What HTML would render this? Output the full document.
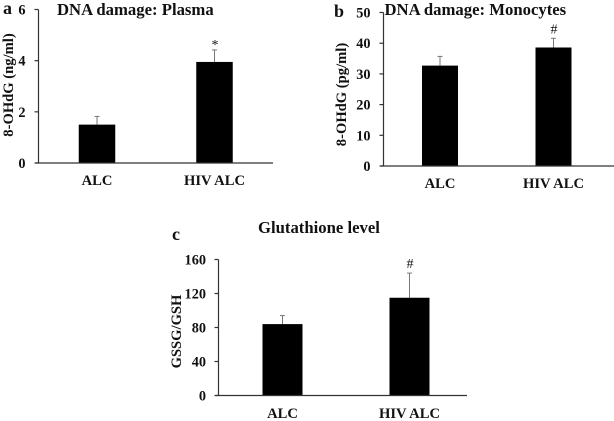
<!DOCTYPE html>
<html>
<head>
<meta charset="utf-8">
<style>
html,body{margin:0;padding:0;background:#fff;width:614px;height:421px;overflow:hidden}
svg{display:block}
text{font-family:"Liberation Serif",serif;font-weight:bold;fill:#111}
</style>
</head>
<body>
<svg id="figure" width="614" height="421" viewBox="0 0 614 421" xmlns="http://www.w3.org/2000/svg"></svg>
<script>
const categories = ['ALC', 'HIV ALC'];
const plasmaValues = [1.5, 3.95];
const plasmaErrors = [0.32, 0.47];
const plasmaTicks = [0, 2, 4, 6];
const plasmaMarks = ['', '*'];
const monocyteValues = [32.7, 38.6];
const monocyteErrors = [3.0, 3.0];
const monocyteTicks = [0, 10, 20, 30, 40, 50];
const monocyteMarks = ['', '#'];
const glutathioneValues = [84, 115];
const glutathioneErrors = [10, 29];
const glutathioneTicks = [0, 40, 80, 120, 160];
const glutathioneMarks = ['', '#'];

const svg = document.getElementById('figure');
const NS = 'http://www.w3.org/2000/svg';

function make(tag, attrs, parent, content) {
  const el = document.createElementNS(NS, tag);
  for (const k in attrs) el.setAttribute(k, attrs[k]);
  if (content !== undefined) el.textContent = content;
  parent.appendChild(el);
  return el;
}

function panel(p) {
  const g = make('g', {}, svg);
  
  
  const yMax = p.ticks[p.ticks.length - 1];
  const y = v => p.y0 - (v / yMax) * (p.y0 - p.yTop);

  const letter = make('text', {x: p.letterX, y: p.letterY, 'font-size': 18}, g, p.letter);
  
  

  const title = make('text', {x: p.titleX, y: p.titleY, 'font-size': 16.7}, g, p.title);
  
  

  const yTitle = make('text', {
    x: 0, y: 0, 'font-size': 14.6, 'text-anchor': 'middle',
    transform: 'translate(' + p.yTitleX + ',' + p.yTitleY + ') rotate(-90)'
  }, g, p.yTitle);
  
  

  p.values.forEach((v, i) => {
    const cx = p.barX[i];
    const errTop = y(v + p.errors[i]);
    const stem = make('line', {x1: cx, x2: cx, y1: y(v), y2: errTop, stroke: '#777', 'stroke-width': 1}, g);
    
    
    const cap = make('line', {x1: cx - 2.5, x2: cx + 2.5, y1: errTop, y2: errTop, stroke: '#777', 'stroke-width': 1}, g);
    
    
    const bar = make('rect', {x: cx - p.barW / 2, y: y(v), width: p.barW, height: p.y0 - y(v), fill: '#000'}, g);
    
    
    const label = make('text', {x: cx, y: p.catY, 'font-size': 14.6, 'text-anchor': 'middle'}, g, categories[i]);
    
    
    if (p.marks[i]) {
      const markGap = p.marks[i] === '*' ? 1 : 5;
      const mark = make('text', {x: cx + 0.5, y: errTop - markGap, 'font-size': 14, 'text-anchor': 'middle', style: 'font-weight:normal'}, g, p.marks[i]);
      
      
    }
  });

  const yAxis = make('line', {x1: p.x0, x2: p.x0, y1: p.yTop, y2: p.y0, stroke: '#333', 'stroke-width': 1.2}, g);
  
  
  const xAxis = make('line', {x1: p.x0 - 3, x2: p.xEnd, y1: p.y0, y2: p.y0, stroke: '#333', 'stroke-width': 1.2}, g);
  
  

  p.ticks.forEach(t => {
    const tick = make('line', {x1: p.x0 - 4, x2: p.x0, y1: y(t), y2: y(t), stroke: '#333', 'stroke-width': 1.2}, g);
    
    
    const tickLabel = make('text', {x: p.tickLabelX, y: y(t) + 5, 'font-size': 14.3, 'text-anchor': 'end'}, g, t);
    
    
  });
}

panel({
  id: 'plasma', letter: 'a', letterX: 3, letterY: 14,
  title: 'DNA damage: Plasma', titleX: 57, titleY: 15,
  yTitle: '8-OHdG (ng/ml)', yTitleX: 13, yTitleY: 85,
  x0: 38.5, xEnd: 273, y0: 163, yTop: 9.5, barX: [97, 214.5], barW: 36.5, catY: 185,
  tickLabelX: 25.5, ticks: plasmaTicks, values: plasmaValues, errors: plasmaErrors, marks: plasmaMarks
});
panel({
  id: 'monocytes', letter: 'b', letterX: 334, letterY: 17,
  title: 'DNA damage: Monocytes', titleX: 384.5, titleY: 15,
  yTitle: '8-OHdG (pg/ml)', yTitleX: 346, yTitleY: 94.5,
  x0: 383.5, xEnd: 614, y0: 166, yTop: 12.5, barX: [440, 553.5], barW: 36, catY: 188,
  tickLabelX: 370.5, ticks: monocyteTicks, values: monocyteValues, errors: monocyteErrors, marks: monocyteMarks
});
panel({
  id: 'glutathione', letter: 'c', letterX: 172, letterY: 240,
  title: 'Glutathione level', titleX: 258, titleY: 233,
  yTitle: 'GSSG/GSH', yTitleX: 181, yTitleY: 331.5,
  x0: 218.5, xEnd: 467, y0: 395.5, yTop: 259.5, barX: [282.5, 409.5], barW: 40, catY: 418,
  tickLabelX: 206, ticks: glutathioneTicks, values: glutathioneValues, errors: glutathioneErrors, marks: glutathioneMarks
});
</script>
</body>
</html>
